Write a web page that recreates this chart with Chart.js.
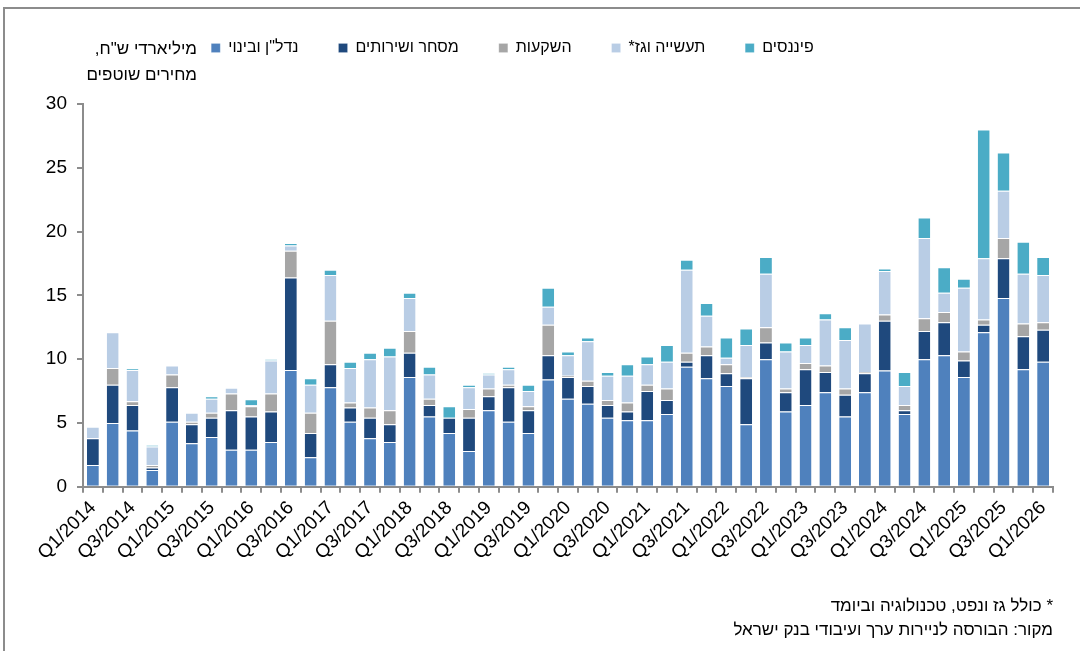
<!DOCTYPE html>
<html>
<head>
<meta charset="utf-8">
<script src="https://cdn.jsdelivr.net/npm/chart.js@4.4.1/dist/chart.umd.min.js"></script>
<style>
  body { margin: 0; background: #fff; }
  #wrap { position: relative; width: 1080px; height: 651px; }
  #frame { position: absolute; left: 3px; top: 7px; right: 0; bottom: 0; border-left: 2px solid #8c8c8c; border-top: 2px solid #8c8c8c; }
</style>
</head>
<body>
<div id="wrap">
  <div id="frame"></div>
  <canvas id="issues-chart"></canvas>
</div>
<script>
const quarters = [
  'Q1/2014', 'Q2/2014', 'Q3/2014', 'Q4/2014', 'Q1/2015', 'Q2/2015', 'Q3/2015', 'Q4/2015',
  'Q1/2016', 'Q2/2016', 'Q3/2016', 'Q4/2016', 'Q1/2017', 'Q2/2017', 'Q3/2017', 'Q4/2017',
  'Q1/2018', 'Q2/2018', 'Q3/2018', 'Q4/2018', 'Q1/2019', 'Q2/2019', 'Q3/2019', 'Q4/2019',
  'Q1/2020', 'Q2/2020', 'Q3/2020', 'Q4/2020', 'Q1/2021', 'Q2/2021', 'Q3/2021', 'Q4/2021',
  'Q1/2022', 'Q2/2022', 'Q3/2022', 'Q4/2022', 'Q1/2023', 'Q2/2023', 'Q3/2023', 'Q4/2023',
  'Q1/2024', 'Q2/2024', 'Q3/2024', 'Q4/2024', 'Q1/2025', 'Q2/2025', 'Q3/2025', 'Q4/2025',
  'Q1/2026'
];

// billions of NIS, current prices
const realEstate = [1.7, 5.0, 4.4, 1.3, 5.1, 3.4, 3.9, 2.9, 2.9, 3.5, 9.15, 2.3, 7.8, 5.1, 3.8, 3.5, 8.6, 5.5, 4.2, 2.8, 6.0, 5.1, 4.2, 8.4, 6.9, 6.5, 5.4, 5.2, 5.2, 5.7, 9.4, 8.5, 7.9, 4.9, 10.0, 5.9, 6.4, 7.4, 5.5, 7.4, 9.1, 5.7, 10.0, 10.3, 8.6, 12.1, 14.8, 9.2, 9.8];
const trade = [2.1, 3.0, 2.0, 0.2, 2.7, 1.5, 1.5, 3.1, 2.6, 2.4, 7.25, 1.9, 1.8, 1.1, 1.6, 1.4, 1.9, 0.9, 1.2, 2.6, 1.1, 2.7, 1.8, 1.9, 1.7, 1.4, 1.0, 0.7, 2.3, 1.1, 0.4, 1.8, 1.0, 3.6, 1.3, 1.5, 2.8, 1.6, 1.7, 1.5, 3.9, 0.3, 2.2, 2.6, 1.3, 0.6, 3.1, 2.6, 2.5];
const investment = [0, 1.3, 0.3, 0.2, 1.0, 0.2, 0.4, 1.3, 0.8, 1.4, 2.1, 1.6, 3.4, 0.4, 0.8, 1.1, 1.7, 0.5, 0, 0.7, 0.6, 0.2, 0.3, 2.4, 0.1, 0.4, 0.4, 0.7, 0.5, 0.9, 0.7, 0.7, 0.7, 0.1, 1.2, 0.3, 0.5, 0.5, 0.5, 0.1, 0.5, 0.4, 1.0, 0.8, 0.7, 0.4, 1.6, 1.0, 0.6];
const industry = [0.9, 2.8, 2.45, 1.45, 0.7, 0.7, 1.1, 0.45, 0.1, 2.6, 0.4, 2.2, 3.6, 2.7, 3.8, 4.2, 2.6, 1.9, 0, 1.7, 1.1, 1.2, 1.2, 1.4, 1.6, 3.1, 1.9, 2.1, 1.6, 2.1, 6.5, 2.4, 0.5, 2.5, 4.2, 2.9, 1.4, 3.6, 3.8, 3.8, 3.4, 1.5, 6.3, 1.5, 5.0, 4.8, 3.7, 3.9, 3.7];
const finance = [0, 0, 0.13, 0.13, 0, 0, 0.2, 0, 0.45, 0.1, 0.2, 0.5, 0.4, 0.5, 0.5, 0.7, 0.4, 0.6, 0.9, 0.2, 0.1, 0.2, 0.5, 1.5, 0.3, 0.3, 0.3, 0.9, 0.6, 1.3, 0.8, 1.0, 1.6, 1.3, 1.3, 0.7, 0.6, 0.5, 1.0, 0, 0.2, 1.1, 1.6, 2.0, 0.7, 10.1, 3.0, 2.5, 1.4];

const seriesNames = ['נדל"ן ובינוי', 'מסחר ושירותים', 'השקעות', 'תעשייה וגז*', 'פיננסים'];
const yTicks = [0, 5, 10, 15, 20, 25, 30];

const font = "'Liberation Sans', Arial, sans-serif";
const axisGrey = '#8c8c8c';

// unit label at the top left, next to the legend
const unitLabel = {
  id: 'unitLabel',
  afterDraw(chart) {
    const c = chart.ctx;
    c.save();
    c.font = '17px ' + font;
    c.fillStyle = '#000';
    c.direction = 'rtl';
    c.textAlign = 'right';
    c.textBaseline = 'middle';
    c.fillText('מיליארדי ש"ח,', 197, 49);
    c.fillText('מחירים שוטפים', 197, 75);
    c.restore();
  }
};

// extra room under the legend, and nudge it a bit to the left
const legendSpace = {
  id: 'legendSpace',
  beforeInit(chart) {
    const fit = chart.legend.fit;
    chart.legend.fit = function () {
      fit.bind(chart.legend)();
      this.height += 38;
    };
  },
  afterLayout(chart) {
    chart.legend.left -= 14;
    chart.legend.right -= 14;
  }
};

function bars(label, data, color) {
  return {
    label: label,
    data: data,
    backgroundColor: color,
    borderColor: 'rgba(255,255,255,0.7)',
    borderWidth: { top: 1 },
    borderSkipped: false,
    categoryPercentage: 1,
    barPercentage: 0.6
  };
}

let ctx = document.getElementById('issues-chart').getContext('2d');

let issuesChart = new Chart(ctx, {
  type: 'bar',
  data: {
    labels: quarters,
    datasets: [
      bars(seriesNames[0], realEstate, '#4f81bd'),
      bars(seriesNames[1], trade, '#1f497d'),
      bars(seriesNames[2], investment, '#a6a6a6'),
      bars(seriesNames[3], industry, '#b9cde5'),
      bars(seriesNames[4], finance, '#4bacc6')
    ]
  },
  options: {
    responsive: true,
    maintainAspectRatio: false,
    animation: false,
    layout: {
      padding: { left: 0, right: 27, top: 0, bottom: 8 }
    },
    scales: {
      x: {
        stacked: true,
        offset: true,
        grid: {
          offset: true,
          drawOnChartArea: false,
          drawTicks: true,
          tickLength: 6,
          color: axisGrey,
          lineWidth: 2
        },
        border: { display: true, color: axisGrey, width: 2 },
        ticks: {
          autoSkip: false,
          maxRotation: 45,
          minRotation: 45,
          padding: 4,
          color: '#000',
          font: { family: font, size: 19 },
          callback: function (value, index) {
            return index % 2 === 0 ? quarters[index] : '';
          }
        },
        afterFit: function (scale) { scale.height = 92; }
      },
      y: {
        stacked: true,
        min: 0,
        max: 30,
        afterBuildTicks: function (scale) {
          scale.ticks = yTicks.map(v => ({ value: v }));
        },
        grid: {
          drawOnChartArea: false,
          drawTicks: true,
          tickLength: 6,
          color: axisGrey,
          lineWidth: 2
        },
        border: { display: true, color: axisGrey, width: 2 },
        ticks: {
          padding: 10,
          color: '#000',
          font: { family: font, size: 19 }
        },
        afterFit: function (scale) { scale.width = 83; }
      }
    },
    plugins: {
      legend: {
        position: 'top',
        align: 'center',
        textDirection: 'rtl',
        labels: {
          boxWidth: 9,
          boxHeight: 9,
          padding: 40,
          color: '#000',
          font: { family: font, size: 16 }
        }
      },
      title: {
        display: true,
        position: 'bottom',
        align: 'end',
        text: ['* כולל גז ונפט, טכנולוגיה וביומד', 'מקור: הבורסה לניירות ערך ועיבודי בנק ישראל'],
        color: '#000',
        font: { family: font, size: 17, weight: 'normal', lineHeight: 1.45 },
        padding: { top: 15, bottom: 0 }
      },
      tooltip: { enabled: false }
    }
  },
  plugins: [unitLabel, legendSpace]
});
</script>
</body>
</html>
